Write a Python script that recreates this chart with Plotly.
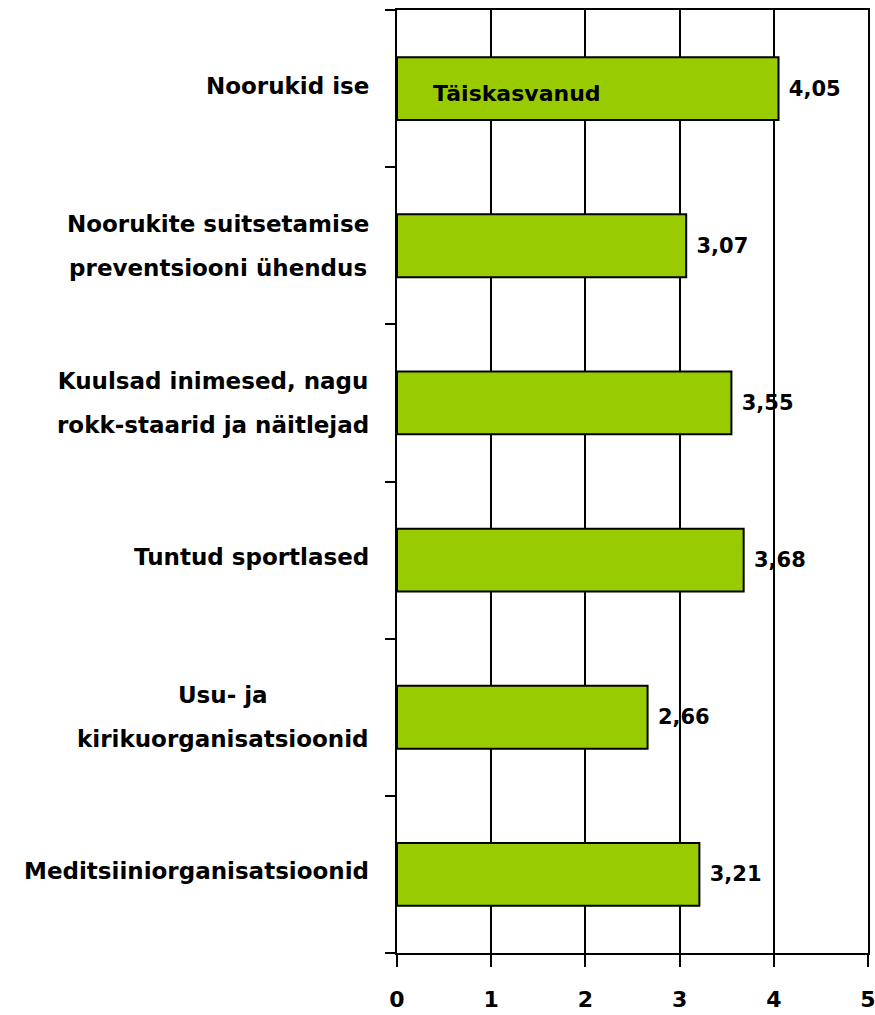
import plotly.graph_objects as go

BAR_COLOR = "#99CC00"
LINE_COLOR = "#000000"
FONT = "DejaVu Sans, Verdana, sans-serif"

series_name = "Täiskasvanud"
categories = [
    "Noorukid ise",
    "Noorukite suitsetamise<br>preventsiooni ühendus",
    "Kuulsad inimesed, nagu<br>rokk-staarid ja näitlejad",
    "Tuntud sportlased",
    "Usu- ja<br>kirikuorganisatsioonid",
    "Meditsiiniorganisatsioonid",
]
values = [4.05, 3.07, 3.55, 3.68, 2.66, 3.21]
x_ticks = [0, 1, 2, 3, 4, 5]

# bottom-to-top order for the axis
cats = categories[::-1]
vals = values[::-1]
positions = list(range(len(cats)))
boundaries = [p - 0.5 for p in positions] + [positions[-1] + 0.5]

fig = go.Figure()

fig.add_trace(
    go.Bar(
        x=vals,
        y=positions,
        orientation="h",
        name=series_name,
        marker={
            "color": BAR_COLOR,
            "line": {"color": LINE_COLOR, "width": 2},
        },
        texttemplate=" %{x:.2f}",
        textposition="outside",
        textfont={"size": 21, "color": "#000000", "family": FONT, "weight": "bold"},
        cliponaxis=False,
        showlegend=False,
        hovertemplate="%{x:.2f}<extra></extra>",
    )
)

# tick marks between categories on an overlaid axis
fig.add_trace(
    go.Scatter(
        x=[None],
        y=[None],
        yaxis="y2",
        showlegend=False,
        hoverinfo="skip",
    )
)

# category labels: centred lines, right-aligned block, wider line spacing
for pos, label in zip(positions, cats):
    lines = label.split("<br>")
    text = "<br>".join(f"<span style='font-size:23px'>{ln}</span>" for ln in lines)
    fig.add_annotation(
        x=0,
        y=pos,
        xref="paper",
        yref="y",
        text=f"<b>{text}</b>",
        showarrow=False,
        align="center",
        xanchor="right",
        yanchor="middle",
        xshift=-26,
        yshift=3 if len(lines) == 1 else 0,
        font={"size": 34, "color": "#000000", "family": FONT},
    )

fig.add_annotation(
    x=0.072,
    y=positions[-1],
    xref="paper",
    yref="y",
    text=f"<b>{series_name}</b>",
    showarrow=False,
    xanchor="left",
    yanchor="middle",
    yshift=-5,
    font={"size": 22, "color": "#000000", "family": FONT},
)

fig.update_layout(
    width=875,
    height=1015,
    template="none",
    paper_bgcolor="white",
    plot_bgcolor="white",
    separators=", ",
    bargap=0.6,
    margin={"l": 397, "r": 7, "t": 10, "b": 62},
    font={"family": FONT, "color": "#000000", "size": 22},
    xaxis={
        "range": [0, 5],
        "tickvals": x_ticks,
        "ticktext": [str(t) for t in x_ticks],
        "showgrid": True,
        "gridcolor": LINE_COLOR,
        "gridwidth": 2,
        "zeroline": False,
        "showline": True,
        "linecolor": LINE_COLOR,
        "linewidth": 2,
        "mirror": True,
        "ticks": "outside",
        "ticklen": 12,
        "tickwidth": 2,
        "tickcolor": LINE_COLOR,
        "ticklabelstandoff": 14,
        "ticklabeloverflow": "allow",
        "tickfont": {"size": 22, "weight": "bold"},
    },
    yaxis={
        "range": [-0.5, len(cats) - 0.5],
        "tickvals": positions,
        "showticklabels": False,
        "showgrid": False,
        "zeroline": False,
        "showline": True,
        "mirror": True,
        "linecolor": LINE_COLOR,
        "linewidth": 2,
        "ticks": "",
    },
    yaxis2={
        "overlaying": "y",
        "side": "left",
        "range": [-0.5, len(cats) - 0.5],
        "tickvals": boundaries,
        "showticklabels": False,
        "showgrid": False,
        "zeroline": False,
        "ticks": "outside",
        "ticklen": 11,
        "tickwidth": 2,
        "tickcolor": LINE_COLOR,
    },
)

fig.write_html(
    "out.html",
    config={"displayModeBar": False},
    post_script="document.body.style.margin = '0';",
)
